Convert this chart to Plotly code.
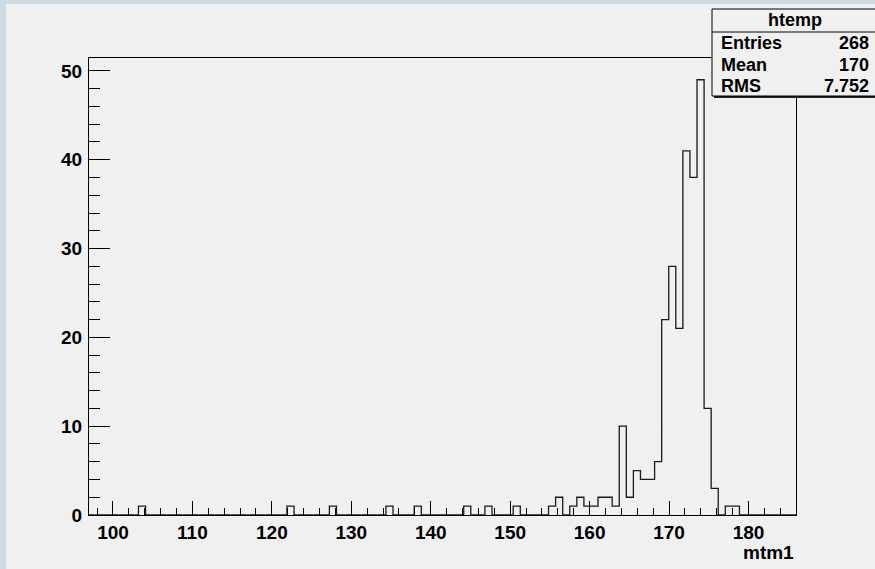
import plotly.graph_objects as go

# Histogram "htemp" of mtm1: 100 equal-width bins
x_low = 96.98
bin_width = 0.89
counts = [
    0, 0, 0, 0, 0, 0, 0, 1, 0, 0,        # bins 0-9
    0, 0, 0, 0, 0, 0, 0, 0, 0, 0,        # bins 10-19
    0, 0, 0, 0, 0, 0, 0, 0, 1, 0,        # bins 20-29
    0, 0, 0, 0, 1, 0, 0, 0, 0, 0,        # bins 30-39
    0, 0, 1, 0, 0, 0, 1, 0, 0, 0,        # bins 40-49
    0, 0, 0, 1, 0, 0, 1, 0, 0, 0,        # bins 50-59
    1, 0, 0, 0, 0, 1, 2, 0, 1, 2,        # bins 60-69
    1, 1, 2, 2, 1, 10, 2, 5, 4, 4,       # bins 70-79
    6, 22, 28, 21, 41, 38, 49, 12, 3, 0,  # bins 80-89
    1, 1, 0, 0, 0, 0, 0, 0, 0, 0,        # bins 90-99
]
stats_title = "htemp"
stats_labels = ["Entries", "Mean", "RMS"]
stats_values = ["268", "170", "7.752"]
x_title = "mtm1"

n_bins = len(counts)
edges = [x_low + i * bin_width for i in range(n_bins + 1)]
x_high = edges[-1]
y_max = max(counts) * 1.05

# canvas geometry (pixels)
W, H = 875, 569
L, R, T, B = 89, 79, 58, 54
PW, PH = W - L - R, H - T - B


def px_x(px):
    return (px - L) / PW


def px_y(py):
    return (H - B - py) / PH


FONT = "Liberation Sans, Arial, Helvetica, sans-serif"
BG = "#f0f0f0"
EDGE = "#cfdbe2"

fig = go.Figure()
fig.add_trace(go.Scatter(
    x=edges,
    y=counts + [counts[-1]],
    mode="lines",
    line=dict(shape="hv", color="#1a1a1a", width=1.3),
    hoverinfo="skip",
    showlegend=False,
))

axis_common = dict(
    showgrid=False, zeroline=False,
    showline=True, linecolor="black", linewidth=1, mirror=True,
    ticks="inside", tickcolor="black", tickwidth=1,
    tickfont=dict(family=FONT, size=19, color="black", weight="bold"),
)

fig.update_xaxes(
    range=[x_low, x_high], tick0=0, dtick=10, ticklen=14,
    minor=dict(dtick=2, ticklen=7, ticks="inside", tickcolor="black", tickwidth=1),
    **axis_common,
)
fig.update_yaxes(
    range=[0, y_max], tick0=0, dtick=10, ticklen=21,
    minor=dict(dtick=2, ticklen=11, ticks="inside", tickcolor="black", tickwidth=1),
    ticklabelstandoff=2,
    **axis_common,
)

shapes = [
    # canvas with the tinted border on the left and top
    dict(type="rect", xref="paper", yref="paper", layer="below",
         x0=px_x(6), x1=px_x(W + 10), y0=px_y(H + 10), y1=px_y(4),
         fillcolor=BG, line=dict(width=0)),
    # stats box shadow
    dict(type="rect", xref="paper", yref="paper", layer="above",
         x0=px_x(714), x1=px_x(W + 10), y0=px_y(98), y1=px_y(11),
         fillcolor="#222222", line=dict(width=0)),
    # stats box
    dict(type="rect", xref="paper", yref="paper", layer="above",
         x0=px_x(712), x1=px_x(W + 8), y0=px_y(96), y1=px_y(9),
         fillcolor=BG, line=dict(color="black", width=1)),
    dict(type="line", xref="paper", yref="paper", layer="above",
         x0=px_x(712), x1=px_x(W + 8), y0=px_y(32), y1=px_y(32),
         line=dict(color="black", width=1)),
]

stat_font = dict(family=FONT, size=18, color="black", weight="bold")
annotations = [
    dict(text=stats_title, xref="paper", yref="paper", x=px_x(795), y=px_y(20.5),
         xanchor="center", yanchor="middle", showarrow=False, font=stat_font),
]
row_y = [43, 64.5, 86]
for lab, val, yy in zip(stats_labels, stats_values, row_y):
    annotations.append(dict(text=lab, xref="paper", yref="paper", x=px_x(719), y=px_y(yy),
                            xanchor="left", yanchor="middle", showarrow=False, font=stat_font))
    annotations.append(dict(text=val, xref="paper", yref="paper", x=px_x(871), y=px_y(yy),
                            xanchor="right", yanchor="middle", showarrow=False, font=stat_font))
annotations.append(dict(text=x_title, xref="paper", yref="paper", x=1, y=px_y(552),
                        xanchor="right", yanchor="middle", showarrow=False,
                        font=dict(family=FONT, size=19, color="black", weight="bold")))

fig.update_layout(
    width=W, height=H,
    margin=dict(l=L, r=R, t=T, b=B, pad=0),
    paper_bgcolor=EDGE, plot_bgcolor=BG,
    shapes=shapes, annotations=annotations,
    showlegend=False,
)

fig.write_html("out.html")
